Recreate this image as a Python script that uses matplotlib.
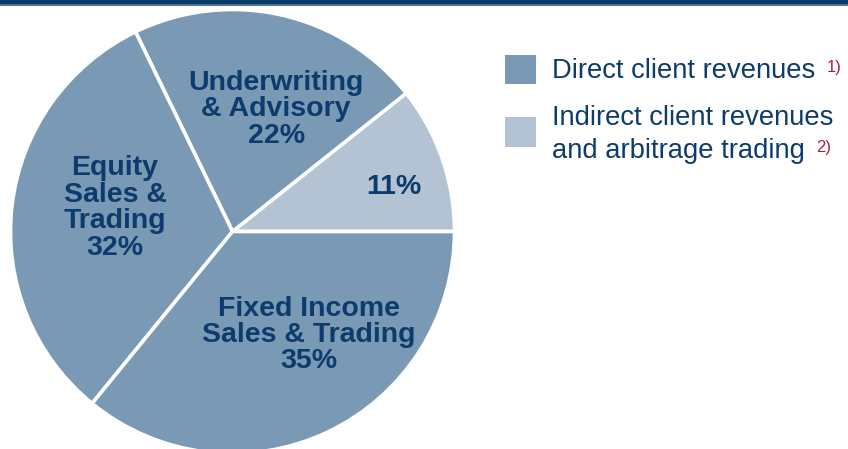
import matplotlib
matplotlib.use("Agg")
import matplotlib.pyplot as plt
from matplotlib.patches import Rectangle

plt.rcParams['font.family'] = ['Liberation Sans', 'DejaVu Sans']

# Data (shares; labels as printed)
segments = ["Indirect", "Underwriting & Advisory", "Equity Sales & Trading", "Fixed Income Sales & Trading"]
shares = [10.7, 21.5, 31.9, 35.9]
labels = ["11%", "Underwriting\n& Advisory\n22%", "Equity\nSales &\nTrading\n32%", "Fixed Income\nSales & Trading\n35%"]
label_pos = [(0.729, 0.201), (0.197, 0.550), (-0.529, 0.106), (0.344, -0.466)]
legend_lines = [["Direct client revenues"], ["Indirect client revenues", "and arbitrage trading"]]
legend_notes = ["1)", "2)"]

DARK = "#7A99B5"
LIGHT = "#B3C3D3"
TEXT = "#0C3B6C"
RED = "#A3213D"
colors = [LIGHT, DARK, DARK, DARK]

W, H = 848, 449
fig = plt.figure(figsize=(W / 100, H / 100), dpi=100)

# top band
fig.add_artist(Rectangle((0, 1 - 4 / H), 1, 4 / H, transform=fig.transFigure, color="#0A3A66", lw=0))
fig.add_artist(Rectangle((0, 1 - 6 / H), 1, 2 / H, transform=fig.transFigure, color="#4E7399", lw=0))

cx, cy, R = 232.5, 231.5, 222
ax = fig.add_axes([(cx - R) / W, (H - cy - R) / H, 2 * R / W, 2 * R / H])
ax.pie(shares, colors=colors, startangle=0, counterclock=True, radius=1,
       wedgeprops=dict(edgecolor="white", linewidth=2.6))
ax.set_xlim(-1, 1)
ax.set_ylim(-1, 1)
ax.set_aspect("auto")
ax.axis("off")

for lab, (x, y) in zip(labels, label_pos):
    ax.text(x, y, lab, ha="center", va="center", fontsize=20.5, fontweight="bold",
            color=TEXT, linespacing=1.02)

# legend
sq = [(505, 55, 31, 29), (505, 117, 31, 30)]
for (x0, y0, w, h), c in zip(sq, [DARK, LIGHT]):
    fig.add_artist(Rectangle((x0 / W, 1 - (y0 + h) / H), w / W, h / H,
                             transform=fig.transFigure, color=c, lw=0))

baselines = [[78], [125, 158]]
renderer = fig.canvas.get_renderer()
for lines, bls, note in zip(legend_lines, baselines, legend_notes):
    last = None
    for s, b in zip(lines, bls):
        last = fig.text(552 / W, 1 - b / H, s, fontsize=19.7, color=TEXT, ha="left", va="baseline")
    bb = last.get_window_extent(renderer=renderer)
    fig.text((bb.x1 + 11) / W, 1 - (bls[-1] - 6) / H, note, fontsize=12, color=RED,
             ha="left", va="baseline")

fig.savefig("out.png", dpi=100)
